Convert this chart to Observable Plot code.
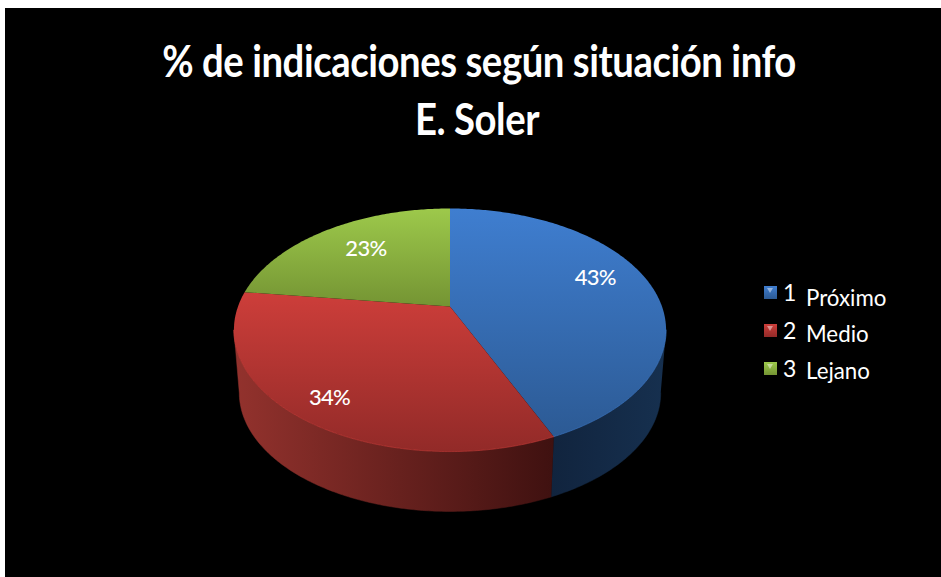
<!DOCTYPE html>
<html><head><meta charset="utf-8">
<script src="https://cdn.jsdelivr.net/npm/d3@7"></script>
<script src="https://cdn.jsdelivr.net/npm/@observablehq/plot@0.6"></script>
<style>
html,body{margin:0;padding:0;background:#fff;overflow:hidden}
#page{position:absolute;left:5px;top:8px;width:936px;height:569px;background:#000;color:#fff;font-family:Lato,"Open Sans",sans-serif}
#title{position:absolute;left:6px;top:0;width:936px;height:130px;text-align:center;font-weight:700;font-size:44px;line-height:58px;padding-top:23px;box-sizing:border-box;letter-spacing:-.5px;color:#fff}
#title div{transform:scaleX(.87)}
#title div+div{transform:translateX(-2px) scaleX(.87)}
#chart{position:absolute;left:0;top:130px}
#chart svg{display:block;background:transparent}
#chart text{letter-spacing:-.7px;font-weight:500}
#legend{position:absolute;left:759px;top:267px;font-size:23px;line-height:38px;color:#fff}
.row{display:flex;align-items:center;height:38px}
.sw{width:13px;height:13px;position:relative;margin-right:6px;margin-top:-4px}
.sw i{position:absolute;left:3px;top:2px;width:0;height:0;border-left:3.5px solid transparent;border-right:3.5px solid transparent;border-top:5px solid rgba(255,255,255,.45)}
.num{width:23px;margin-top:-4px}
.name{display:inline-block;transform:scaleX(.97);transform-origin:left center}
</style></head><body>
<div id="page">
  <div id="title"></div>
  <div id="chart"></div>
  <div id="legend"></div>
</div>
<script>
// data
const titleLines = ["% de indicaciones según situación info", "E. Soler"];
const categories = ["1", "2", "3"];
const names = ["Próximo", "Medio", "Lejano"];
const shares = [43.4, 33.6, 23.0];
const shareLabels = ["43%", "34%", "23%"];

// styles
const faceStops = [["#3f7ed0", "#2c5a94"], ["#cd3e3a", "#922a28"], ["#9dc94b", "#749433"]];
const sideStops = [["#11243e", "#16304f"], ["#93322d", "#3f1110"], ["#4a5f20", "#4a5f20"]];
const labelNudge = [[4, -12], [-21, 18], [5, -2]];
const nameNudge = [3, 1, 0];

// perspective of the tilted disk (in units of the disk radius)
const W = 936, H = 439, px = 212;
const persp = 0.1935, squash = 117 / px, depth = 63.5 / px, shrink = 0.975;
const cx = 449.5 - 5, cy = 306 - 138;

function proj(theta, r = 1, bottom = false) {
  const u = r * Math.sin(theta), v = -r * Math.cos(theta);
  const s = (bottom ? shrink : 1) / (1 - persp * v);
  return {x: u * s, y: (bottom ? depth : 0) + squash * v * s};
}
const total = d3.sum(shares);
let acc = 0;
const slices = shares.map((d, i) => {
  const a0 = acc / total * 2 * Math.PI;
  acc += d;
  return {i, a0, a1: acc / total * 2 * Math.PI, label: shareLabels[i]};
});
const arcAngles = (a0, a1) => {
  const n = Math.max(2, Math.ceil((a1 - a0) * 80));
  return d3.range(n + 1).map(k => a0 + (a1 - a0) * k / n);
};
const facePoints = s => [{x: 0, y: 0}, ...arcAngles(s.a0, s.a1).map(t => proj(t)), {x: 0, y: 0}];
// front part of the wall only, between the two silhouette tangents
const frontFrom = Math.acos(-persp), frontTo = 2 * Math.PI - frontFrom;
const wallRange = s => [Math.max(s.a0, frontFrom), Math.min(s.a1, frontTo)];
const wallPoints = s => {
  const [a, b] = wallRange(s);
  if (b <= a) return [];
  const ang = arcAngles(a, b);
  return [...ang.map(t => proj(t)), ...ang.slice().reverse().map(t => proj(t, 1, true))];
};
const rimPoints = s => {
  const [a, b] = wallRange(s);
  return b > a ? arcAngles(a, b).map(t => proj(t)) : [];
};

const defs = () => {
  const d = d3.create("svg:defs");
  const grad = (id, stops, x2, y2) => {
    const g = d.append("linearGradient").attr("id", id).attr("x1", 0).attr("y1", 0).attr("x2", x2).attr("y2", y2);
    g.append("stop").attr("offset", 0).attr("stop-color", stops[0]);
    g.append("stop").attr("offset", 1).attr("stop-color", stops[1]);
  };
  faceStops.forEach((c, i) => grad("face" + i, c, 0, 1));
  sideStops.forEach((c, i) => grad("side" + i, c, 1, 0));
  return d.node();
};

const plot = Plot.plot({
  width: W, height: H,
  margin: 0,
  style: {background: "transparent", overflow: "visible"},
  x: {domain: [-cx / px, (W - cx) / px], range: [0, W], axis: null},
  y: {domain: [-cy / px, (H - cy) / px], range: [0, H], axis: null},
  marks: [
    defs,
    ...slices.map(s => Plot.line(wallPoints(s), {x: "x", y: "y", fill: `url(#side${s.i})`, stroke: `url(#side${s.i})`, strokeWidth: 0.5})),
    ...slices.map(s => Plot.line(facePoints(s), {x: "x", y: "y", fill: `url(#face${s.i})`, stroke: "none"})),
    ...slices.map(s => Plot.line(rimPoints(s), {x: "x", y: "y", stroke: faceStops[s.i][0], strokeWidth: 1, strokeOpacity: 0.55})),
    ...slices.map(s => {
      const mid = (s.a0 + s.a1) / 2;
      return Plot.text([{...proj(mid, 0.7), label: s.label}], {
        x: "x", y: "y", text: "label", dx: labelNudge[s.i][0], dy: labelNudge[s.i][1],
        fill: "#fff", fontSize: 22, fontFamily: "Lato, sans-serif", lineAnchor: "middle"
      });
    })
  ]
});
document.getElementById("chart").append(plot);

const t = document.getElementById("title");
titleLines.forEach(l => { const e = document.createElement("div"); e.textContent = l; t.append(e); });
const lg = document.getElementById("legend");
categories.forEach((c, i) => {
  const r = document.createElement("div");
  r.className = "row";
  r.innerHTML = `<span class="sw" style="background:linear-gradient(${faceStops[i][0]},${faceStops[i][1]})"><i></i></span><span class="num">${c}</span><span class="name" style="margin-top:${nameNudge[i]*2}px">${names[i]}</span>`;
  lg.append(r);
});
</script>
</body></html>
